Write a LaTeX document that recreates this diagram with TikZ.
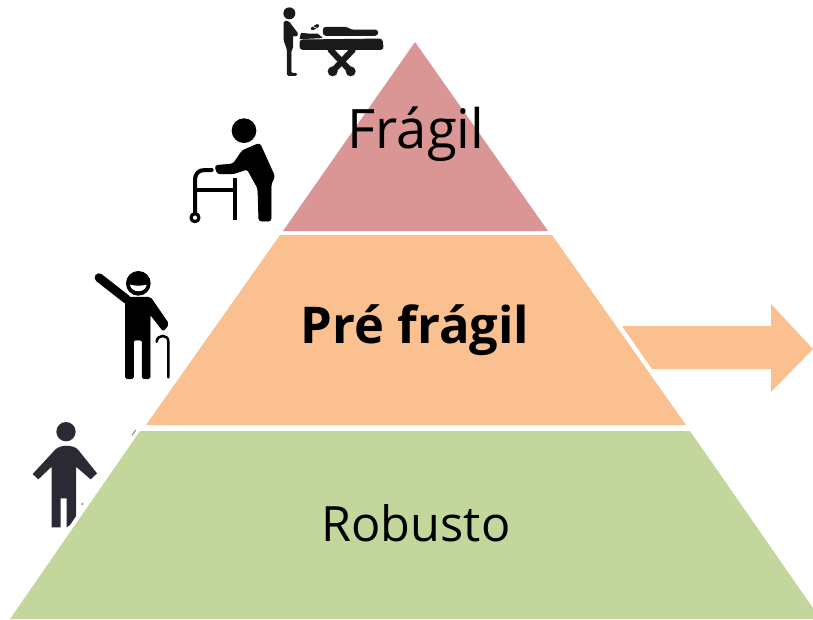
\documentclass[tikz,border=0pt]{standalone}
\usepackage{fontspec}
\setmainfont{Open Sans}
\definecolor{fragilc}{HTML}{D99694}
\definecolor{prec}{HTML}{FAC090}
\definecolor{robc}{HTML}{C3D69B}
\definecolor{icona}{HTML}{1A1A1A}
\definecolor{iconb}{HTML}{2A2A35}
\tikzset{
  lab/.style={text=black,inner sep=0pt},
  zoomed/.style={scale=1/3,line join=round,line cap=round},
  ink/.style={fill=#1,draw=#1,line width=.7pt},
}
\begin{document}
\begin{tikzpicture}[x=0.75pt,y=-0.75pt]
\useasboundingbox (0,0) rectangle (813,619);
% pyramid
\fill[fragilc] (415,42) -- (548,231) -- (283,231) -- cycle;
\fill[prec] (280,235) -- (552,235) -- (686,425) -- (146,425) -- cycle;
\fill[robc] (140,431) -- (690,431) -- (813,608) -- (813,619) -- (10,619) -- cycle;
% arrow
\fill[prec] (622,326) -- (771,326) -- (771,304) -- (813,349) -- (771,392) -- (771,369) -- (652,369) -- cycle;
% labels
\node[lab,font=\fontsize{40.8}{46}\selectfont] (f) at (416,134) {Frágil};
\node[lab,font=\fontsize{38}{44}\selectfont\bfseries] (p) at (415,330) {Pré frágil};
\node[lab,font=\fontsize{36.5}{42}\selectfont] (r) at (416,523) {Robusto};
% stretcher figure
\begin{scope}[shift={(260,0)},zoomed]
\fill[icona] (88,40) circle (18);
\path[ink=icona,rounded corners=1pt] (72,64) -- (85,64) -- (114,102) -- (107,110) -- (98,104) -- (98,145) -- (93,150) -- (93,220) -- (110,220) -- (110,226) -- (82,226) -- (82,148) -- (72,120) -- cycle;
\path[ink=icona,rounded corners=2pt] (120,120) -- (366,117) -- (370,148) -- (120,148) -- cycle;
\path[ink=icona] (120,116) -- (124,100) -- (145,102) -- (172,102) -- (186,113) -- cycle;
\path[ink=icona,rounded corners=2pt] (190,82) -- (262,82) -- (270,90) -- (353,90) -- (353,106) -- (190,106) -- cycle;
\draw[icona,line width=2.6pt] (157,86) -- (173,77);
\draw[white,line width=.5pt] (158,79) -- (171,85);
\draw[icona,line width=4.6pt] (212,150) -- (264,205);
\draw[icona,line width=4.6pt] (278,150) -- (226,205);
\fill[icona] (218,214) circle (15) (272,214) circle (15);
\end{scope}
% walker figure
\begin{scope}[shift={(170,105)},zoomed]
\fill[black] (222,77) circle (37);
\path[ink=black,rounded corners=2pt] (217,137) -- (269,115) -- (314,215) -- (303,236) -- (303,348) -- (267,348) -- (264,250) -- (232,192) -- (190,206) -- (142,206) -- (135,182) -- (190,177) -- cycle;
\draw[black,line width=3pt] (125,195) -- (105,195) .. controls (85,195) and (75,205) .. (75,228) -- (75,325);
\draw[black,line width=3pt] (78,255) -- (195,255);
\draw[black,line width=3.4pt,line cap=butt] (195,218) -- (195,345);
\draw[black,line width=2.4pt,fill=white] (75,338) circle (12);
\end{scope}
% waving figure
\begin{scope}[shift={(80,260)},zoomed]
\fill[black] (175,70) circle (37);
\fill[white] (150,74) .. controls (165,78) and (185,78) .. (200,74) .. controls (197,100) and (153,100) .. (150,74) -- cycle;
\draw[black,line width=6.6pt] (57,53) -- (140,118);
\path[ink=black,rounded corners=1.5pt] (137,112) -- (211,112) -- (266,192) -- (250,213) -- (210,162) -- (210,345) .. controls (210,358) and (187,358) .. (187,345) -- (187,240) -- (160,240) -- (160,345) .. controls (160,358) and (137,358) .. (137,345) -- cycle;
\draw[black,line width=1.9pt] (265,352) -- (265,245) .. controls (265,222) and (232,222) .. (230,245);
\end{scope}
% standing figure
\begin{scope}[shift={(20,410)},zoomed]
\fill[iconb] (138,65) circle (29);
\fill[iconb] (100,125) -- (38,192) -- (55,208) -- (95,170) -- (95,352) -- (122,352) -- (122,265) -- (140,265) -- (140,352) -- (150,345) -- (168,318) -- (168,170) -- (212,208) -- (231,190) -- (175,120) .. controls (160,102) and (115,102) .. (100,125) -- cycle;
\fill[iconb!70] (187,282) circle (3);
\draw[iconb!70,line width=.6pt] (336,76) -- (347,60);
\end{scope}
\end{tikzpicture}
\end{document}
